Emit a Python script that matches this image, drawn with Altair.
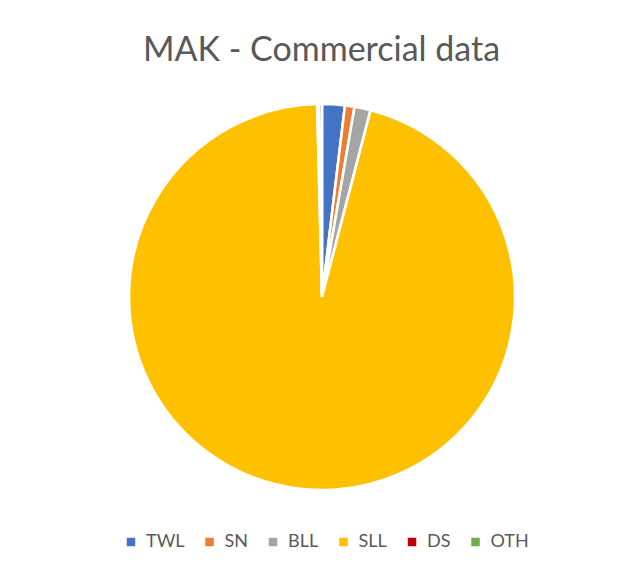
import altair as alt
import pandas as pd

categories = ["TWL", "SN", "BLL", "SLL", "DS", "OTH"]
values = [1.9, 0.8, 1.35, 95.55, 0.15, 0.25]
colors = ["#4472C4", "#ED7D31", "#A5A5A5", "#FFC000", "#C00000", "#70AD47"]

df = pd.DataFrame({"cat": categories, "val": values, "ord": list(range(len(categories)))})

chart = (
    alt.Chart(df, title=alt.Title(
        "MAK - Commercial data", frame="group", anchor="middle", orient="top",
        offset=-17, dx=7, baseline="alphabetic", fontSize=34, font="Lato",
        fontWeight="normal", color="#595959"))
    .mark_arc(outerRadius=193, stroke="white", strokeWidth=2.6)
    .encode(
        x=alt.value(314),
        y=alt.value(219),
        theta=alt.Theta("val:Q", stack=True),
        order=alt.Order("ord:Q"),
        color=alt.Color(
            "cat:N",
            scale=alt.Scale(domain=categories, range=colors),
            sort=categories,
            legend=alt.Legend(
                title=None, orient="none", direction="horizontal",
                legendX=114, legendY=455, symbolType="square", symbolSize=72,
                symbolStrokeWidth=0, labelFontSize=18, labelFont="Lato",
                labelColor="#595959", columnPadding=15.5, labelOffset=6,
                padding=0, gridAlign="none",
            ),
        ),
    )
    .properties(width=613, height=490,
                autosize=alt.AutoSizeParams(type="none"),
                padding={"left": 0, "top": 70, "right": 0, "bottom": 0})
    .configure_view(stroke=None)
)

chart.save("out.html", embed_options={"renderer": "svg", "actions": False})
